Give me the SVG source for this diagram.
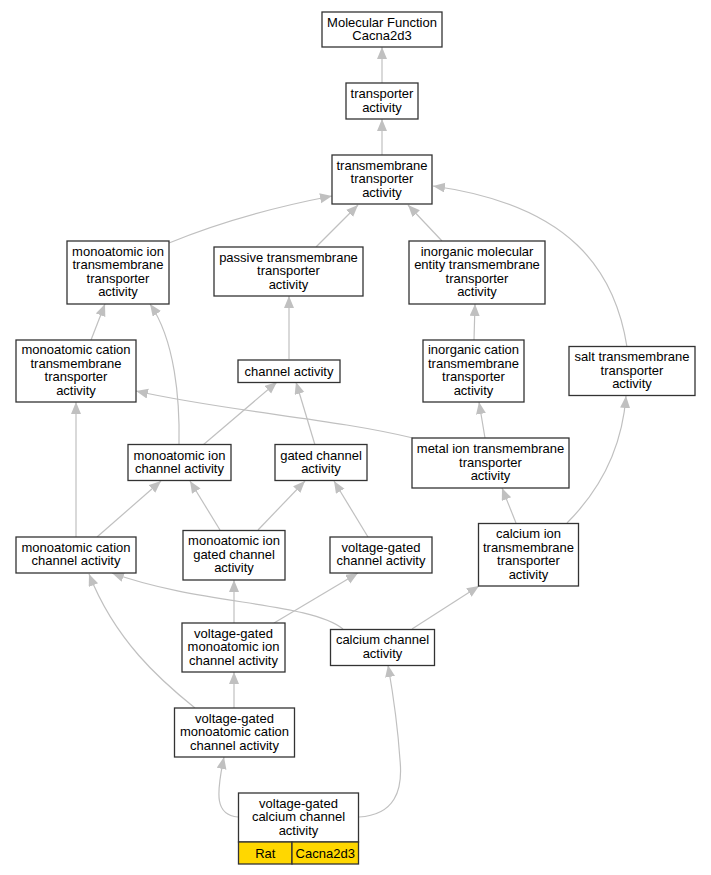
<svg xmlns="http://www.w3.org/2000/svg" width="711" height="875" viewBox="0 0 711 875">
<style>
.n rect{fill:#fff;stroke:#333;stroke-width:1.3}
.n text{font-family:"Liberation Sans",Arial,sans-serif;font-size:13px;text-anchor:middle;fill:#000}
#edges path{fill:none;stroke:#c0c0c0;stroke-width:1.2;marker-end:url(#ah)}
</style>
<defs>
<marker id="ah" markerUnits="userSpaceOnUse" markerWidth="14" markerHeight="12" refX="12" refY="5" orient="auto">
<path d="M0,0 L12,5 L0,10 z" fill="#c0c0c0"/>
</marker>
</defs>
<rect width="711" height="875" fill="#fff"/>
<g id="edges">
<path d="M382,83 L382,47"/>
<path d="M382,155 L382,119"/>
<path d="M169,243 C220,222 280,206 332,196"/>
<path d="M316,247 L358,205"/>
<path d="M442,241 L408,205"/>
<path d="M627,347 C615,270 570,205 433,186"/>
<path d="M91,340 L105,304"/>
<path d="M179,445 C180,400 175,340 150,304"/>
<path d="M289,359 L289,296"/>
<path d="M315,445 L296,382"/>
<path d="M203,445 L277,382"/>
<path d="M474,340 L475,304"/>
<path d="M413,438 C330,418 230,412 136,391"/>
<path d="M485,438 L479,402"/>
<path d="M516,523 L502,488"/>
<path d="M567,523 C600,490 622,450 626,396"/>
<path d="M76,537 L76,402"/>
<path d="M97,537 L161,481"/>
<path d="M220,530 L190,481"/>
<path d="M258,530 L305,481"/>
<path d="M368,537 L334,481"/>
<path d="M343,629 C310,602 200,605 112,573"/>
<path d="M234,623 L234,580"/>
<path d="M274,623 L358,573"/>
<path d="M412,629 L479,586"/>
<path d="M234,708 L234,672"/>
<path d="M195,708 C160,680 115,640 89,574"/>
<path d="M238,817 C215,815 216,795 224,757"/>
<path d="M359,817 C395,815 403,790 400,760 C398,730 395,705 388,665"/>
</g>
<g id="n1" class="n"><rect x="322" y="12" width="120" height="35"/><text><tspan x="382" y="26.5">Molecular Function</tspan><tspan x="382" y="40">Cacna2d3</tspan></text></g>
<g id="n2" class="n"><rect x="346" y="83" width="72" height="36"/><text><tspan x="382" y="98">transporter</tspan><tspan x="382" y="111.5">activity</tspan></text></g>
<g id="n3" class="n"><rect x="332" y="155" width="100" height="49"/><text><tspan x="382" y="169.5">transmembrane</tspan><tspan x="382" y="183">transporter</tspan><tspan x="382" y="196.5">activity</tspan></text></g>
<g id="n4" class="n"><rect x="67" y="241" width="102" height="63"/><text><tspan x="118" y="255.75">monoatomic ion</tspan><tspan x="118" y="269.25">transmembrane</tspan><tspan x="118" y="282.75">transporter</tspan><tspan x="118" y="296.25">activity</tspan></text></g>
<g id="n5" class="n"><rect x="214" y="247" width="149" height="49"/><text><tspan x="288.5" y="261.5">passive transmembrane</tspan><tspan x="288.5" y="275">transporter</tspan><tspan x="288.5" y="288.5">activity</tspan></text></g>
<g id="n6" class="n"><rect x="409" y="241" width="136" height="63"/><text><tspan x="477" y="255.75">inorganic molecular</tspan><tspan x="477" y="269.25">entity transmembrane</tspan><tspan x="477" y="282.75">transporter</tspan><tspan x="477" y="296.25">activity</tspan></text></g>
<g id="n7" class="n"><rect x="16" y="340" width="120" height="62"/><text><tspan x="76" y="354.25">monoatomic cation</tspan><tspan x="76" y="367.75">transmembrane</tspan><tspan x="76" y="381.25">transporter</tspan><tspan x="76" y="394.75">activity</tspan></text></g>
<g id="n8" class="n"><rect x="238" y="360" width="102" height="22.5"/><text><tspan x="289" y="375.5">channel activity</tspan></text></g>
<g id="n9" class="n"><rect x="423" y="340" width="101" height="62"/><text><tspan x="473.5" y="354.25">inorganic cation</tspan><tspan x="473.5" y="367.75">transmembrane</tspan><tspan x="473.5" y="381.25">transporter</tspan><tspan x="473.5" y="394.75">activity</tspan></text></g>
<g id="n10" class="n"><rect x="569" y="346.5" width="126" height="49"/><text><tspan x="632" y="361">salt transmembrane</tspan><tspan x="632" y="374.5">transporter</tspan><tspan x="632" y="388">activity</tspan></text></g>
<g id="n11" class="n"><rect x="128" y="444.5" width="103" height="36"/><text><tspan x="179.5" y="459.5">monoatomic ion</tspan><tspan x="179.5" y="473">channel activity</tspan></text></g>
<g id="n12" class="n"><rect x="275" y="444.5" width="92" height="36"/><text><tspan x="321" y="459.5">gated channel</tspan><tspan x="321" y="473">activity</tspan></text></g>
<g id="n13" class="n"><rect x="412" y="438" width="157" height="50"/><text><tspan x="490.5" y="453">metal ion transmembrane</tspan><tspan x="490.5" y="466.5">transporter</tspan><tspan x="490.5" y="480">activity</tspan></text></g>
<g id="n14" class="n"><rect x="478.5" y="523.5" width="100" height="62.5"/><text><tspan x="528.5" y="538">calcium ion</tspan><tspan x="528.5" y="551.5">transmembrane</tspan><tspan x="528.5" y="565">transporter</tspan><tspan x="528.5" y="578.5">activity</tspan></text></g>
<g id="n15" class="n"><rect x="16" y="537" width="120" height="36"/><text><tspan x="76" y="551.75">monoatomic cation</tspan><tspan x="76" y="565.25">channel activity</tspan></text></g>
<g id="n16" class="n"><rect x="183" y="530.5" width="102" height="49.5"/><text><tspan x="234" y="545">monoatomic ion</tspan><tspan x="234" y="558.5">gated channel</tspan><tspan x="234" y="572">activity</tspan></text></g>
<g id="n17" class="n"><rect x="330" y="537" width="102" height="36"/><text><tspan x="381" y="551.75">voltage-gated</tspan><tspan x="381" y="565.25">channel activity</tspan></text></g>
<g id="n18" class="n"><rect x="330.5" y="629.5" width="104" height="36"/><text><tspan x="382.5" y="644">calcium channel</tspan><tspan x="382.5" y="657.5">activity</tspan></text></g>
<g id="n19" class="n"><rect x="182" y="623" width="103" height="49"/><text><tspan x="233.5" y="637.5">voltage-gated</tspan><tspan x="233.5" y="651">monoatomic ion</tspan><tspan x="233.5" y="664.5">channel activity</tspan></text></g>
<g id="n20" class="n"><rect x="174.5" y="708" width="120" height="49"/><text><tspan x="234.5" y="722.5">voltage-gated</tspan><tspan x="234.5" y="736">monoatomic cation</tspan><tspan x="234.5" y="749.5">channel activity</tspan></text></g>
<g id="n21" class="n"><rect x="238.5" y="793" width="120" height="49"/><text><tspan x="298.5" y="807.5">voltage-gated</tspan><tspan x="298.5" y="821">calcium channel</tspan><tspan x="298.5" y="834.5">activity</tspan></text>
<rect x="238.5" y="842" width="53.5" height="22" style="fill:#ffd700"/><rect x="292" y="842" width="66.5" height="22" style="fill:#ffd700"/>
<text x="265.25" y="857.5">Rat</text><text x="325.25" y="857.5">Cacna2d3</text></g>
</svg>
